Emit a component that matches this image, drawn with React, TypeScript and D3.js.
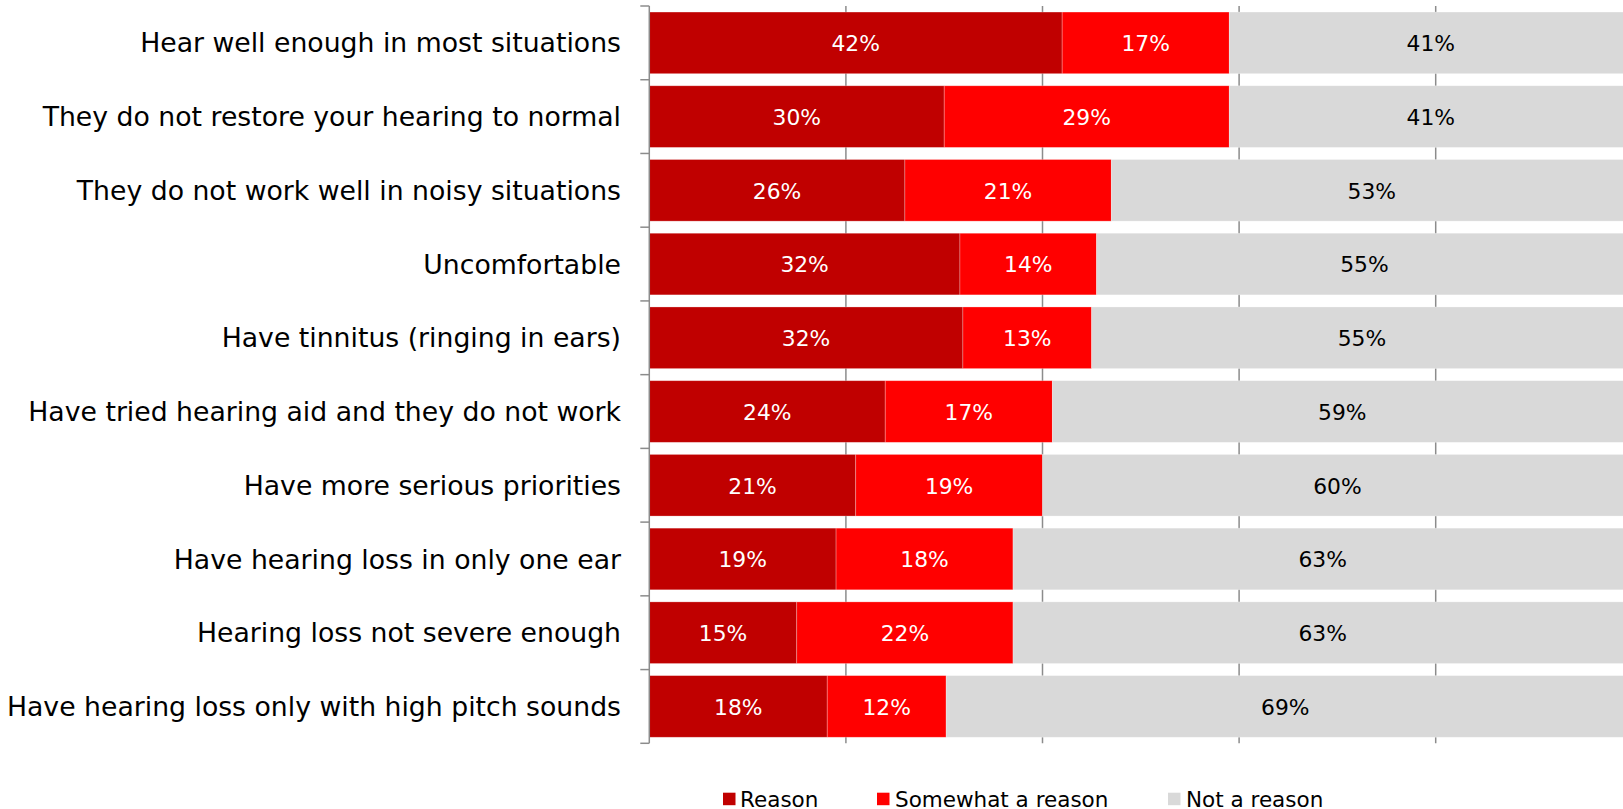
import React from "react";
import * as d3 from "d3";

const categories = [
  "Hear well enough in most situations",
  "They do not restore your hearing to normal",
  "They do not work well in noisy situations",
  "Uncomfortable",
  "Have tinnitus (ringing in ears)",
  "Have tried hearing aid and they do not work",
  "Have more serious priorities",
  "Have hearing loss in only one ear",
  "Hearing loss not severe enough",
  "Have hearing loss only with high pitch sounds",
];
const reason = [42, 30, 26, 31.6, 31.9, 24, 21, 19, 15, 18.1];
const somewhat = [17, 29, 21, 13.9, 13.1, 17, 19, 18, 22, 12.1];
const notReason = [41, 41, 53, 54.5, 55, 59, 60, 63, 63, 69];
const seriesNames = ["Reason", "Somewhat a reason", "Not a reason"];
const xTicks = [0, 20, 40, 60, 80, 100];

const colors = ["#C00000", "#FF0000", "#D9D9D9"];
const textColors = ["#ffffff", "#ffffff", "#000000"];

export default function App() {
  const W = 1623;
  const H = 809;
  const x0 = 649.3;
  const x1 = 1632.3;
  const yTop = 6;
  const yBot = 743.3;

  const x = d3.scaleLinear().domain([0, 100]).range([x0, x1]);
  const y = d3
    .scaleBand<number>()
    .domain(categories.map((_, i) => i))
    .range([yTop, yBot])
    .paddingInner(0.164)
    .paddingOuter(0.082);
  const step = y.step();

  const rows = categories.map((c, i) => {
    const vals = [reason[i], somewhat[i], notReason[i]];
    let acc = 0;
    const segs = vals.map((v, k) => {
      const start = acc;
      acc += v;
      return { k, v, start, end: acc };
    });
    return { c, i, segs };
  });

  const font = "'DejaVu Sans', Verdana, sans-serif";
  const legendItems = [
    { sx: 723, tx: 740 },
    { sx: 877, tx: 895 },
    { sx: 1168, tx: 1186 },
  ];

  return (
    <svg
      width={W}
      height={H}
      style={{ position: "absolute", left: 0, top: 0, display: "block" }}
      fontFamily={font}
    >
      <rect x={0} y={0} width={W} height={H} fill="#fff" />
      {/* gridlines */}
      {xTicks.slice(1).map((t) => (
        <line
          key={t}
          x1={x(t)}
          x2={x(t)}
          y1={yTop}
          y2={yBot}
          stroke="#8c8c8c"
          strokeWidth={1.5}
        />
      ))}
      {/* bars */}
      {rows.map((r) => (
        <g key={r.i}>
          {r.segs.map((s) => (
            <rect
              key={s.k}
              x={x(s.start)}
              y={y(r.i)!}
              width={x(s.end) - x(s.start)}
              height={y.bandwidth()}
              fill={colors[s.k]}
              stroke="#ffffff"
              strokeOpacity={0.35}
              strokeWidth={0.75}
            />
          ))}
          {r.segs.map((s) => (
            <text
              key={"t" + s.k}
              x={(x(s.start) + x(Math.min(s.end, 100))) / 2}
              y={y(r.i)! + y.bandwidth() / 2}
              dy="0.38em"
              textAnchor="middle"
              fontSize={21.8}
              fill={textColors[s.k]}
            >
              {Math.round(s.v) + "%"}
            </text>
          ))}
          <text
            x={621}
            y={y(r.i)! + y.bandwidth() / 2}
            dy="0.36em"
            textAnchor="end"
            fontSize={26.7}
            fill="#000"
          >
            {r.c}
          </text>
        </g>
      ))}
      {/* axis */}
      <line x1={x0} x2={x0} y1={yTop} y2={yBot} stroke="#8c8c8c" strokeWidth={1.5} />
      {d3.range(categories.length + 1).map((k) => (
        <line
          key={k}
          x1={x0 - 9}
          x2={x0}
          y1={yTop + k * step}
          y2={yTop + k * step}
          stroke="#8c8c8c"
          strokeWidth={1.5}
        />
      ))}
      {/* legend */}
      {seriesNames.map((n, k) => (
        <g key={n}>
          <rect x={legendItems[k].sx} y={792.7} width={12.5} height={12.5} fill={colors[k]} />
          <text x={legendItems[k].tx} y={806.7} fontSize={21.5} fill="#000">
            {n}
          </text>
        </g>
      ))}
    </svg>
  );
}
